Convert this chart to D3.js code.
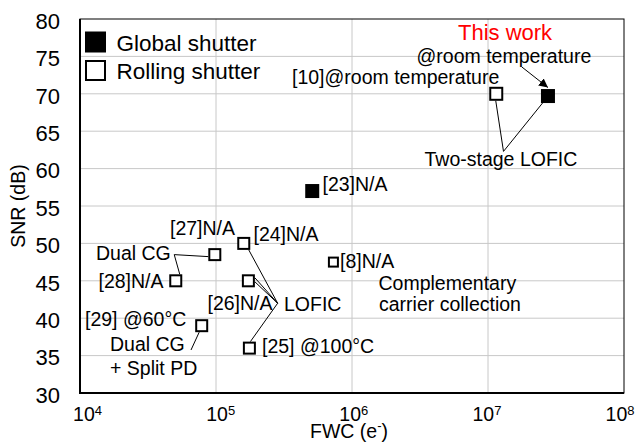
<!DOCTYPE html>
<html>
<head>
<meta charset="utf-8">
<script src="https://cdn.jsdelivr.net/npm/d3@7"></script>
<style>
  body { margin: 0; background: #fff; }
  text { font-family: "Liberation Sans", Arial, sans-serif; }
</style>
</head>
<body>
<div id="chart"></div>
<script>
// data
const pointLabels = ["This work", "[10]", "[23]", "[24]", "[27]", "[28]", "[26]", "[29]", "[25]", "[8]"];
const fwcValues = [2.76e7, 1.15e7, 5.1e5, 1.6e5, 9.8e4, 5.06e4, 1.73e5, 7.85e4, 1.76e5, 7.3e5];
const snrValues = [69.7, 70, 57, 50, 48.5, 45, 45, 39, 36, 47.5];
const shutterTypes = ["Global", "Rolling", "Global", "Rolling", "Rolling", "Rolling", "Rolling", "Rolling", "Rolling", "Rolling"];

const xTickValues = [1e4, 1e5, 1e6, 1e7, 1e8];
const xTickExponents = ["4", "5", "6", "7", "8"];
const yTickValues = [30, 35, 40, 45, 50, 55, 60, 65, 70, 75, 80];

// leader line bends, in data units (FWC, SNR)
const bendNames = ["dualCG", "lofic", "splitPD", "twoStage", "roomTemp"];
const bendFwc = [4.93e4, 2.84e5, 6.55e4, 1.3e7, 1.77e7];
const bendSnr = [48.5, 42.0, 35.75, 62.3, 73.6];

const width = 635, height = 442;
const plot = { left: 80, right: 624, top: 19, bottom: 393 };

const svg = d3.select("#chart").append("svg")
  .attr("width", width)
  .attr("height", height);

const x = d3.scaleLog().domain([1e4, 1e8]).range([plot.left, plot.right]);
const y = d3.scaleLinear().domain([30, 80]).range([plot.bottom, plot.top]);

const points = pointLabels.map((label, i) => ({
  label: label, fwc: fwcValues[i], snr: snrValues[i], type: shutterTypes[i]
}));
const bends = {};
bendNames.forEach((n, i) => { bends[n] = [x(bendFwc[i]), y(bendSnr[i])]; });
const byLabel = {};
points.forEach(p => { byLabel[p.label] = p; });

// grid
svg.append("g").selectAll("line")
  .data(xTickValues.slice(1, -1))
  .join("line")
  .attr("x1", d => x(d)).attr("x2", d => x(d))
  .attr("y1", plot.top).attr("y2", plot.bottom)
  .attr("stroke", "#c8c8c8").attr("stroke-width", 1);
svg.append("g").selectAll("line")
  .data(yTickValues.slice(1, -1))
  .join("line")
  .attr("x1", plot.left).attr("x2", plot.right)
  .attr("y1", d => y(d)).attr("y2", d => y(d))
  .attr("stroke", "#c8c8c8").attr("stroke-width", 1);

// frame
svg.append("rect")
  .attr("x", plot.left).attr("y", plot.top)
  .attr("width", plot.right - plot.left).attr("height", plot.bottom - plot.top)
  .attr("fill", "none").attr("stroke", "#000").attr("stroke-width", 1);
svg.append("path")
  .attr("d", `M${plot.left},${plot.top}V${plot.bottom}H${plot.right}`)
  .attr("fill", "none").attr("stroke", "#000").attr("stroke-width", 2);

// y axis labels
const yAxis = svg.append("g")
  .attr("transform", "translate(" + plot.left + ",0)")
  .call(d3.axisLeft(y).tickValues(yTickValues).tickSize(0).tickPadding(20));
yAxis.select(".domain").remove();
yAxis.selectAll("text")
  .attr("dy", "0.42em")
  .style("font-size", "22px")
  .style("font-family", "'Liberation Sans', Arial, sans-serif")
  .attr("fill", "#000");

// x axis labels, 10 with superscript exponent
const xAxis = svg.append("g")
  .attr("transform", "translate(0," + plot.bottom + ")")
  .call(d3.axisBottom(x).tickValues(xTickValues).tickSize(0).tickFormat(() => ""));
xAxis.select(".domain").remove();
xAxis.selectAll(".tick text").each(function (d, i) {
  const t = d3.select(this)
    .attr("y", 28).attr("dy", null)
    .attr("x", 7 - 0.021 * (x(d) - plot.left))
    .attr("text-anchor", "middle")
    .attr("fill", "#000")
    .style("font-family", "'Liberation Sans', Arial, sans-serif");
  t.append("tspan").style("font-size", "19.5px").text("10");
  t.append("tspan").style("font-size", "13px").attr("dy", -6).text(xTickExponents[i]);
});

// axis titles
svg.append("text")
  .attr("transform", "translate(24.5," + (plot.top + plot.bottom) / 2 + ") rotate(-90)")
  .attr("text-anchor", "middle")
  .style("font-size", "19.5px")
  .text("SNR (dB)");
const xTitle = svg.append("text")
  .attr("x", 349).attr("y", 438)
  .attr("text-anchor", "middle")
  .style("font-size", "19.5px");
xTitle.append("tspan").text("FWC (e");
xTitle.append("tspan").style("font-size", "13px").attr("dy", -8).text("-");
xTitle.append("tspan").attr("dy", 8).text(")");

// leader lines: marker edge offset (px) -> bend
const leaders = [
  { from: "[27]", dx: -6.5, dy: 2, to: "dualCG" },
  { from: "[28]", dx: 4, dy: -6.5, to: "dualCG" },
  { from: "[24]", dx: 5, dy: 6.5, to: "lofic" },
  { from: "[26]", dx: 6.5, dy: -3, to: "lofic" },
  { from: "[26]", dx: 6.5, dy: 1, to: "lofic" },
  { from: "[25]", dx: 1, dy: -6.5, to: "lofic" },
  { from: "[29]", dx: -2.5, dy: 6.5, to: "splitPD" },
  { from: "[10]", dx: -0.5, dy: 7, to: "twoStage" },
  { from: "This work", dx: -5, dy: 6.5, to: "twoStage" }
];
svg.append("g").selectAll("line")
  .data(leaders)
  .join("line")
  .attr("x1", d => x(byLabel[d.from].fwc) + d.dx)
  .attr("y1", d => y(byLabel[d.from].snr) + d.dy)
  .attr("x2", d => bends[d.to][0])
  .attr("y2", d => bends[d.to][1])
  .attr("stroke", "#000").attr("stroke-width", 1);

// arrow to this work
svg.append("defs").append("marker")
  .attr("id", "arrow")
  .attr("viewBox", "0 0 10 10")
  .attr("refX", 10).attr("refY", 5)
  .attr("markerWidth", 9).attr("markerHeight", 9)
  .attr("markerUnits", "userSpaceOnUse")
  .attr("orient", "auto")
  .append("path").attr("d", "M0,0L10,5L0,10z").attr("fill", "#000");
svg.append("line")
  .attr("x1", bends.roomTemp[0]).attr("y1", bends.roomTemp[1])
  .attr("x2", x(byLabel["This work"].fwc)).attr("y2", y(byLabel["This work"].snr) - 8.5)
  .attr("stroke", "#000").attr("stroke-width", 1)
  .attr("marker-end", "url(#arrow)");

// markers
const markerSize = d => d.label == "[8]" ? 11 : (d.type == "Global" || d.label == "[10]") ? 14 : 13;
svg.append("g").selectAll("rect")
  .data(points)
  .join("rect")
  .attr("x", d => x(d.fwc) - (markerSize(d) - 2) / 2)
  .attr("y", d => y(d.snr) - (markerSize(d) - 2) / 2)
  .attr("width", d => markerSize(d) - 2)
  .attr("height", d => markerSize(d) - 2)
  .attr("fill", d => d.type == "Global" ? "#000" : "#fff")
  .attr("stroke", "#000")
  .attr("stroke-width", 2);

// legend
const legend = svg.append("g");
[["Global shutter", "#000", 42], ["Rolling shutter", "#fff", 70.5]].forEach(item => {
  legend.append("rect")
    .attr("x", 86).attr("y", item[2] - 9.5)
    .attr("width", 19).attr("height", 19)
    .attr("fill", item[1]).attr("stroke", "#000").attr("stroke-width", 2);
  legend.append("text")
    .attr("x", 116.5).attr("y", item[2] + 8.5)
    .style("font-size", "22.5px")
    .text(item[0]);
});

// annotations
const notes = [
  ["This work", 458, 40, "22px", "#ff0000"],
  ["@room temperature", 416.5, 63],
  ["[10]@room temperature", 292, 84],
  ["Two-stage LOFIC", 424.5, 166],
  ["[23]N/A", 322.5, 190.5],
  ["[27]N/A", 170, 235],
  ["[24]N/A", 253.5, 241],
  ["Dual CG", 96, 260],
  ["[8]N/A", 340, 268.3],
  ["[28]N/A", 98.5, 288],
  ["Complementary", 378.5, 290],
  ["[26]N/A", 207.5, 310],
  ["LOFIC", 284, 311],
  ["carrier collection", 379, 311],
  ["[29] @60°C", 85, 326],
  ["Dual CG", 110, 351],
  ["[25] @100°C", 262, 353],
  ["+ Split PD", 110, 375]
];
svg.append("g").selectAll("text")
  .data(notes)
  .join("text")
  .attr("x", d => d[1])
  .attr("y", d => d[2])
  .style("font-size", d => d[3] || "19.5px")
  .attr("fill", d => d[4] || "#000")
  .text(d => d[0]);
</script>
</body>
</html>
